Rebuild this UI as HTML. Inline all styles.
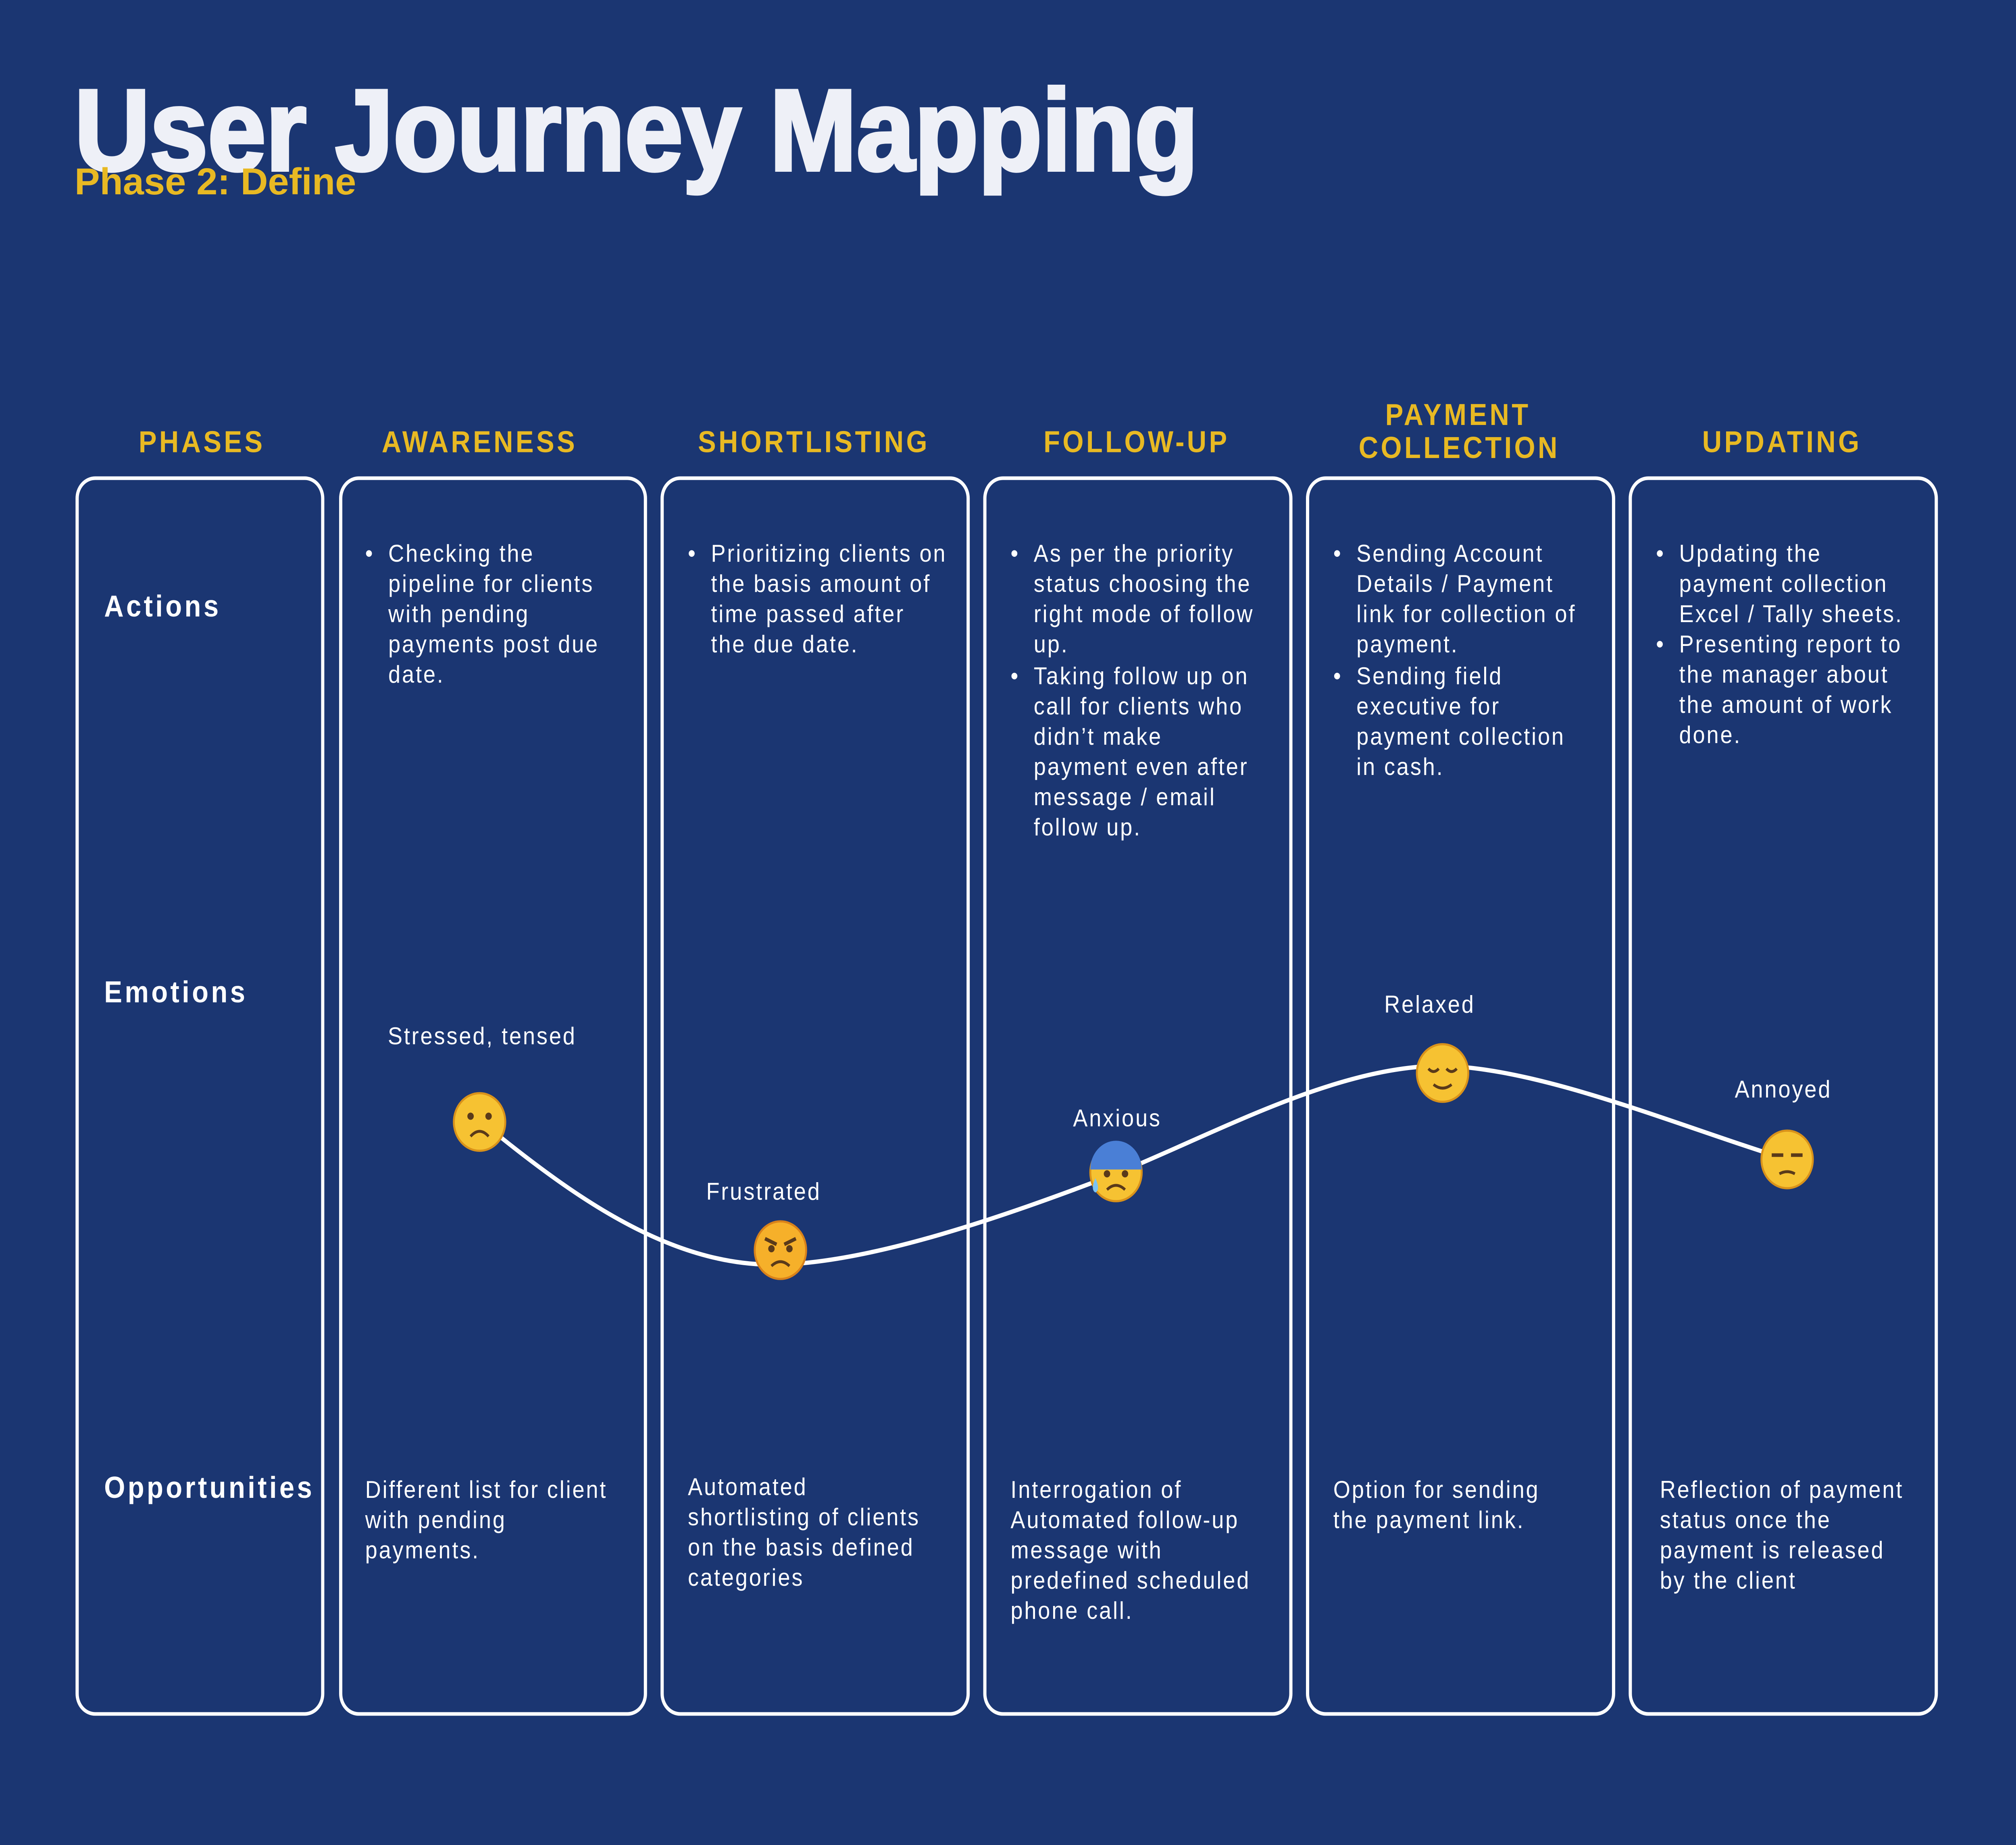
<!DOCTYPE html>
<html><head><meta charset="utf-8"><style>
html,body{margin:0;padding:0;background:#1b3672;width:100%;height:100%;overflow:hidden;}
svg{display:block;width:100vw;height:100vh}
text{font-family:"Liberation Sans",sans-serif}
</style></head><body>
<svg viewBox="0 0 1568 1281" preserveAspectRatio="none" xmlns="http://www.w3.org/2000/svg">
<rect width="1568" height="1281" fill="#1b3672"/>
<text x="58" y="118" font-size="80" font-weight="bold" fill="#eef0f7" stroke="#eef0f7" stroke-width="2.5" textLength="874" lengthAdjust="spacingAndGlyphs">User Journey Mapping</text>
<text x="58" y="135" font-size="26" font-weight="bold" fill="#e8b923" textLength="219" lengthAdjust="spacingAndGlyphs">Phase 2: Define</text>

<g font-size="21" font-weight="bold" fill="#e8b923" text-anchor="middle" letter-spacing="2">
<text x="157" y="314">PHASES</text>
<text x="373" y="314">AWARENESS</text>
<text x="633" y="314">SHORTLISTING</text>
<text x="884" y="314">FOLLOW-UP</text>
<text x="1134" y="295">PAYMENT</text>
<text x="1135" y="318">COLLECTION</text>
<text x="1386" y="314">UPDATING</text>
</g>

<g fill="none" stroke="#ffffff" stroke-width="2.5">
<rect x="60" y="332" width="191" height="858" rx="14"/>
<rect x="265" y="332" width="237" height="858" rx="14"/>
<rect x="515" y="332" width="238" height="858" rx="14"/>
<rect x="766" y="332" width="238" height="858" rx="14"/>
<rect x="1017" y="332" width="238" height="858" rx="14"/>
<rect x="1268" y="332" width="238" height="858" rx="14"/>
</g>

<g font-size="21" font-weight="bold" fill="#ffffff" letter-spacing="2">
<text x="81" y="428">Actions</text>
<text x="81" y="696">Emotions</text>
<text x="81" y="1040">Opportunities</text>
</g>

<g font-size="17" fill="#ffffff" letter-spacing="1.2">
<text x="284" y="390">•</text>
<text x="302" y="390">Checking the</text><text x="302" y="411">pipeline for clients</text><text x="302" y="432">with pending</text><text x="302" y="453">payments post due</text><text x="302" y="474">date.</text>

<text x="535" y="390">•</text>
<text x="553" y="390">Prioritizing clients on</text><text x="553" y="411">the basis amount of</text><text x="553" y="432">time passed after</text><text x="553" y="453">the due date.</text>

<text x="786" y="390">•</text>
<text x="804" y="390">As per the priority</text><text x="804" y="411">status choosing the</text><text x="804" y="432">right mode of follow</text><text x="804" y="453">up.</text>
<text x="786" y="475">•</text>
<text x="804" y="475">Taking follow up on</text><text x="804" y="496">call for clients who</text><text x="804" y="517">didn’t make</text><text x="804" y="538">payment even after</text><text x="804" y="559">message / email</text><text x="804" y="580">follow up.</text>

<text x="1037" y="390">•</text>
<text x="1055" y="390">Sending Account</text><text x="1055" y="411">Details / Payment</text><text x="1055" y="432">link for collection of</text><text x="1055" y="453">payment.</text>
<text x="1037" y="475">•</text>
<text x="1055" y="475">Sending field</text><text x="1055" y="496">executive for</text><text x="1055" y="517">payment collection</text><text x="1055" y="538">in cash.</text>

<text x="1288" y="390">•</text>
<text x="1306" y="390">Updating the</text><text x="1306" y="411">payment collection</text><text x="1306" y="432">Excel / Tally sheets.</text>
<text x="1288" y="453">•</text>
<text x="1306" y="453">Presenting report to</text><text x="1306" y="474">the manager about</text><text x="1306" y="495">the amount of work</text><text x="1306" y="516">done.</text>

<text x="284" y="1040">Different list for client</text><text x="284" y="1061">with pending</text><text x="284" y="1082">payments.</text>
<text x="535" y="1038">Automated</text><text x="535" y="1059">shortlisting of clients</text><text x="535" y="1080">on the basis defined</text><text x="535" y="1101">categories</text>
<text x="786" y="1040">Interrogation of</text><text x="786" y="1061">Automated  follow-up</text><text x="786" y="1082">message with</text><text x="786" y="1103">predefined scheduled</text><text x="786" y="1124">phone call.</text>
<text x="1037" y="1040">Option for sending</text><text x="1037" y="1061">the payment link.</text>
<text x="1291" y="1040">Reflection of payment</text><text x="1291" y="1061">status once the</text><text x="1291" y="1082">payment is released</text><text x="1291" y="1103">by the client</text>

<g text-anchor="middle">
<text x="375" y="725">Stressed, tensed</text>
<text x="594" y="833">Frustrated</text>
<text x="869" y="782">Anxious</text>
<text x="1112" y="703">Relaxed</text>
<text x="1387" y="762">Annoyed</text>
</g>
</g>

<path d="M390,790 C460,840 530,880 607,878 C680,876 780,845 868,815 C950,785 1040,740 1122,740 C1200,742 1300,780 1390,805" fill="none" stroke="#ffffff" stroke-width="3"/>

<g>
<g transform="translate(373,779)"><circle r="20" fill="#f6c232" stroke="#d9921a" stroke-width="1.5"/><circle cx="-7" cy="-4" r="2.5" fill="#5a3a1a"/><circle cx="7" cy="-4" r="2.5" fill="#5a3a1a"/><path d="M-7,10 Q0,3 7,10" stroke="#5a3a1a" stroke-width="2" fill="none"/></g>
<g transform="translate(607,868)"><circle r="20" fill="#f6b02a" stroke="#d9821a" stroke-width="1.5"/><path d="M-12,-8 L-3,-4 M12,-8 L3,-4" stroke="#5a3a1a" stroke-width="2.5"/><circle cx="-7" cy="-1" r="2.5" fill="#5a3a1a"/><circle cx="7" cy="-1" r="2.5" fill="#5a3a1a"/><path d="M-7,11 Q0,5 7,11" stroke="#5a3a1a" stroke-width="2" fill="none"/></g>
<g transform="translate(868,814)"><circle r="20" fill="#f6c232" stroke="#d9921a" stroke-width="1.5"/><path d="M-20,-2 A20,20 0 0 1 20,-2 Z" fill="#4a7fd6"/><circle cx="-7" cy="1" r="2.5" fill="#5a3a1a"/><circle cx="7" cy="1" r="2.5" fill="#5a3a1a"/><path d="M-7,12 Q0,6 7,12" stroke="#5a3a1a" stroke-width="2" fill="none"/><path d="M-16,4 q-4,8 0,10 q4,-2 0,-10" fill="#7cc4f4"/></g>
<g transform="translate(1122,745)"><circle r="20" fill="#f6c232" stroke="#d9921a" stroke-width="1.5"/><path d="M-11,-3 Q-7,1 -3,-3 M3,-3 Q7,1 11,-3" stroke="#5a3a1a" stroke-width="2" fill="none"/><path d="M-7,8 Q0,13 7,8" stroke="#5a3a1a" stroke-width="2" fill="none"/></g>
<g transform="translate(1390,805)"><circle r="20" fill="#f6c232" stroke="#d9921a" stroke-width="1.5"/><path d="M-12,-3 L-3,-3 M3,-3 L12,-3" stroke="#5a3a1a" stroke-width="2.5"/><path d="M-6,10 Q0,7 6,10" stroke="#5a3a1a" stroke-width="2" fill="none"/></g>
</g>
</svg>
</body></html>
